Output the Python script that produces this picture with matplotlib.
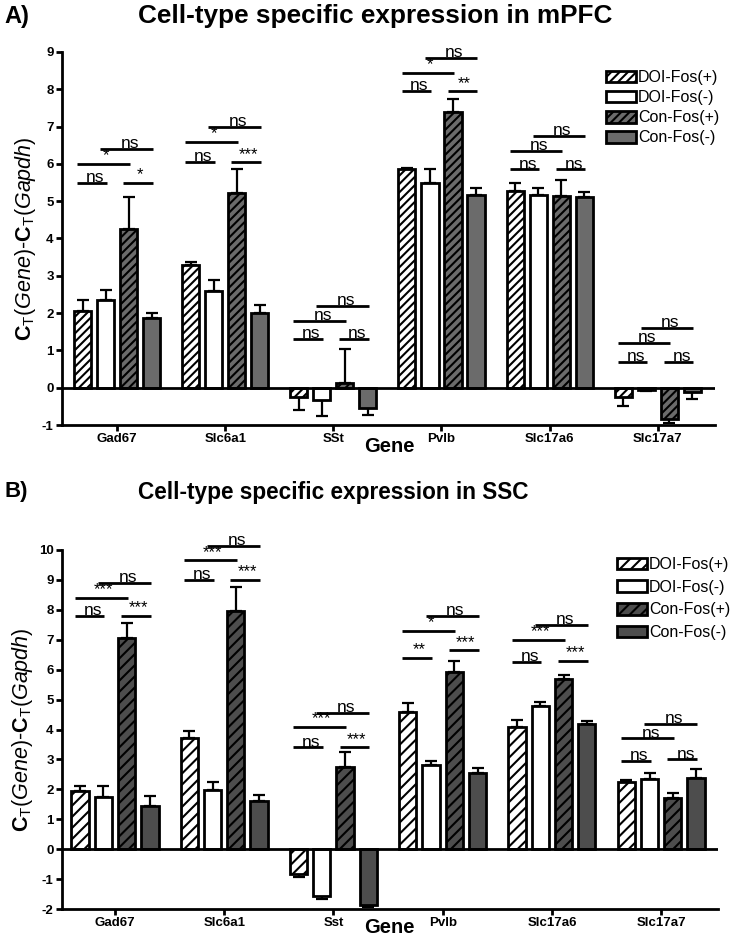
import numpy as np
import matplotlib
matplotlib.use("Agg")
import matplotlib.pyplot as plt
from matplotlib.patches import Patch

plt.rcParams['font.family'] = ['Liberation Sans', 'DejaVu Sans']
plt.rcParams['mathtext.fontset'] = 'custom'
plt.rcParams['mathtext.rm'] = 'Liberation Sans'
plt.rcParams['mathtext.it'] = 'Liberation Sans:italic'
plt.rcParams['mathtext.bf'] = 'Liberation Sans:bold'
plt.rcParams['hatch.linewidth'] = 1.5

groups = ['DOI-Fos(+)', 'DOI-Fos(-)', 'Con-Fos(+)', 'Con-Fos(-)']
genes_mpfc = ['Gad67', 'Slc6a1', 'SSt', 'Pvlb', 'Slc17a6', 'Slc17a7']
genes_ssc = ['Gad67', 'Slc6a1', 'Sst', 'Pvlb', 'Slc17a6', 'Slc17a7']

# mPFC: mean and SEM per group
mpfc_doi_pos = [2.06, 3.28, -0.25, 5.86, 5.28, -0.24]
mpfc_doi_pos_sem = [0.29, 0.10, 0.35, 0.02, 0.22, 0.26]
mpfc_doi_neg = [2.35, 2.60, -0.33, 5.49, 5.17, -0.07]
mpfc_doi_neg_sem = [0.28, 0.28, 0.42, 0.38, 0.18, 0.02]
mpfc_con_pos = [4.25, 5.22, 0.12, 7.40, 5.13, -0.84]
mpfc_con_pos_sem = [0.85, 0.65, 0.93, 0.33, 0.45, 0.11]
mpfc_con_neg = [1.88, 2.00, -0.54, 5.17, 5.12, -0.11]
mpfc_con_neg_sem = [0.13, 0.23, 0.20, 0.18, 0.14, 0.19]

# SSC: mean and SEM per group
ssc_doi_pos = [1.96, 3.73, -0.82, 4.60, 4.08, 2.23]
ssc_doi_pos_sem = [0.16, 0.23, 0.10, 0.28, 0.24, 0.09]
ssc_doi_neg = [1.74, 1.98, -1.56, 2.82, 4.79, 2.34]
ssc_doi_neg_sem = [0.38, 0.28, 0.11, 0.14, 0.13, 0.22]
ssc_con_pos = [7.06, 7.96, 2.73, 5.92, 5.69, 1.71]
ssc_con_pos_sem = [0.49, 0.80, 0.51, 0.38, 0.14, 0.18]
ssc_con_neg = [1.43, 1.62, -1.87, 2.54, 4.18, 2.37]
ssc_con_neg_sem = [0.36, 0.20, 0.07, 0.17, 0.11, 0.31]

# significance: comparisons (DOI+ vs DOI-), (Con+ vs Con-), (DOI+ vs Con+), (DOI- vs Con-)
sig_pairs = [(0, 1), (2, 3), (0, 2), (1, 3)]
mpfc_sig_labels = [['ns', '*', '*', 'ns'], ['ns', '***', '*', 'ns'], ['ns', 'ns', 'ns', 'ns'],
                   ['ns', '**', '*', 'ns'], ['ns', 'ns', 'ns', 'ns'], ['ns', 'ns', 'ns', 'ns']]
mpfc_sig_heights = [[5.5, 5.5, 6.0, 6.4], [6.05, 6.05, 6.6, 7.0], [1.3, 1.3, 1.8, 2.2],
                    [7.95, 7.95, 8.45, 8.85], [5.85, 5.85, 6.35, 6.75], [0.7, 0.7, 1.2, 1.6]]
ssc_sig_labels = [['ns', '***', '***', 'ns'], ['ns', '***', '***', 'ns'], ['ns', '***', '***', 'ns'],
                  ['**', '***', '*', 'ns'], ['ns', '***', '***', 'ns'], ['ns', 'ns', 'ns', 'ns']]
ssc_sig_heights = [[7.8, 7.8, 8.4, 8.9], [9.0, 9.0, 9.65, 10.15], [3.4, 3.4, 4.1, 4.55],
                   [6.4, 6.65, 7.3, 7.8], [6.25, 6.3, 7.0, 7.5], [2.95, 3.0, 3.7, 4.2]]

W, H = 730, 947
fig = plt.figure(figsize=(W / 100, H / 100), dpi=100)


def px_rect(x0, y0, x1, y1):
    return [x0 / W, 1 - y1 / H, (x1 - x0) / W, (y1 - y0) / H]


def draw_panel(ax, genes, means, sems, sig_labels, sig_heights, gray, hatch, ylim, xlim, ns_dy):
    x = np.arange(len(genes))
    step, width = 0.213, 0.158
    styles = [('white', hatch), ('white', None), (gray, hatch), (gray, None)]
    for g in range(4):
        pos = x + (g - 1.5) * step
        m = np.array(means[g])
        s = np.array(sems[g])
        fc, ht = styles[g]
        ax.bar(pos, m, width, color=fc, edgecolor='black', linewidth=2, hatch=ht, zorder=3)
        lower = np.where(m < 0, s, 0)
        upper = np.where(m >= 0, s, 0)
        ax.errorbar(pos, m, yerr=[lower, upper], fmt='none', ecolor='black',
                    elinewidth=1.6, capsize=4.5, capthick=1.6, zorder=2)
    for i in range(len(genes)):
        for (a, b), lab, h in zip(sig_pairs, sig_labels[i], sig_heights[i]):
            xa = x[i] + (a - 1.5) * step - 0.05
            xb = x[i] + (b - 1.5) * step + 0.01
            ax.plot([xa, xb], [h, h], color='black', lw=2, clip_on=False, zorder=4,
                    solid_capstyle='butt')
            if lab == 'ns':
                ax.text((xa + xb) / 2 + 0.03, h - ns_dy, lab, ha='center', va='bottom',
                        fontsize=12.5, clip_on=False)
            else:
                ax.text((xa + xb) / 2 + 0.02, h + 0.01, lab, ha='center', va='bottom',
                        fontsize=12, clip_on=False)
    ax.axhline(0, color='black', lw=2, zorder=4)
    ax.set_xlim(*xlim)
    ax.set_ylim(*ylim)
    ax.set_xticks(x)
    ax.set_xticklabels(genes, fontweight='bold', fontsize=9.5)
    ax.set_yticks(np.arange(ylim[0], ylim[1] + 1))
    ax.set_yticklabels([str(v) for v in range(ylim[0], ylim[1] + 1)], fontweight='bold', fontsize=9.5)
    ax.tick_params(axis='both', direction='out', length=4, width=2, pad=2)
    for sp in ['top', 'right']:
        ax.spines[sp].set_visible(False)
    for sp in ['left', 'bottom']:
        ax.spines[sp].set_linewidth(2)
    ax.set_ylabel(r'$\mathbf{C}_{\mathrm{T}}(\mathit{Gene})$-$\mathbf{C}_{\mathrm{T}}(\mathit{Gapdh})$',
                  fontsize=15.5, labelpad=3)


def add_legend(ax, gray, hatch, x, y, spacing):
    handles = [Patch(facecolor='white', edgecolor='black', hatch=hatch, lw=2),
               Patch(facecolor='white', edgecolor='black', lw=2),
               Patch(facecolor=gray, edgecolor='black', hatch=hatch, lw=2),
               Patch(facecolor=gray, edgecolor='black', lw=2)]
    ax.legend(handles, groups, loc='upper left', bbox_to_anchor=(x / W, 1 - y / H),
              bbox_transform=fig.transFigure, frameon=False, fontsize=11.5,
              handlelength=1.85, handleheight=0.75, handletextpad=0.15,
              labelspacing=spacing, borderpad=0, borderaxespad=0)


# Panel A
gray_a = '#6b6b6b'
ax1 = fig.add_axes(px_rect(62, 52, 715, 425))
draw_panel(ax1, genes_mpfc,
           [mpfc_doi_pos, mpfc_doi_neg, mpfc_con_pos, mpfc_con_neg],
           [mpfc_doi_pos_sem, mpfc_doi_neg_sem, mpfc_con_pos_sem, mpfc_con_neg_sem],
           mpfc_sig_labels, mpfc_sig_heights, gray_a, '////', (-1, 9), (-0.51, 5.53), 0.06)
add_legend(ax1, gray_a, '////', 606, 70, 0.32)
fig.text(4 / W, 1 - 16 / H, 'A)', fontsize=17, fontweight='bold', va='center', ha='left')
fig.text(375 / W, 1 - 16 / H, 'Cell-type specific expression in mPFC', fontsize=18.8,
         fontweight='bold', va='center', ha='center')
fig.text(389 / W, 1 - 446 / H, 'Gene', fontsize=14.5, fontweight='bold', va='center', ha='center')

# Panel B
gray_b = '#4d4d4d'
ax2 = fig.add_axes(px_rect(62, 550, 718, 909))
draw_panel(ax2, genes_ssc,
           [ssc_doi_pos, ssc_doi_neg, ssc_con_pos, ssc_con_neg],
           [ssc_doi_pos_sem, ssc_doi_neg_sem, ssc_con_pos_sem, ssc_con_neg_sem],
           ssc_sig_labels, ssc_sig_heights, gray_b, '///', (-2, 10), (-0.485, 5.52), 0.075)
add_legend(ax2, gray_b, '///', 617, 557, 0.48)
fig.text(4 / W, 1 - 491 / H, 'B)', fontsize=16, fontweight='bold', va='center', ha='left')
fig.text(333 / W, 1 - 492 / H, 'Cell-type specific expression in SSC', fontsize=16.3,
         fontweight='bold', va='center', ha='center')
fig.text(389 / W, 1 - 927 / H, 'Gene', fontsize=14.5, fontweight='bold', va='center', ha='center')

fig.savefig('out.png', dpi=100)
